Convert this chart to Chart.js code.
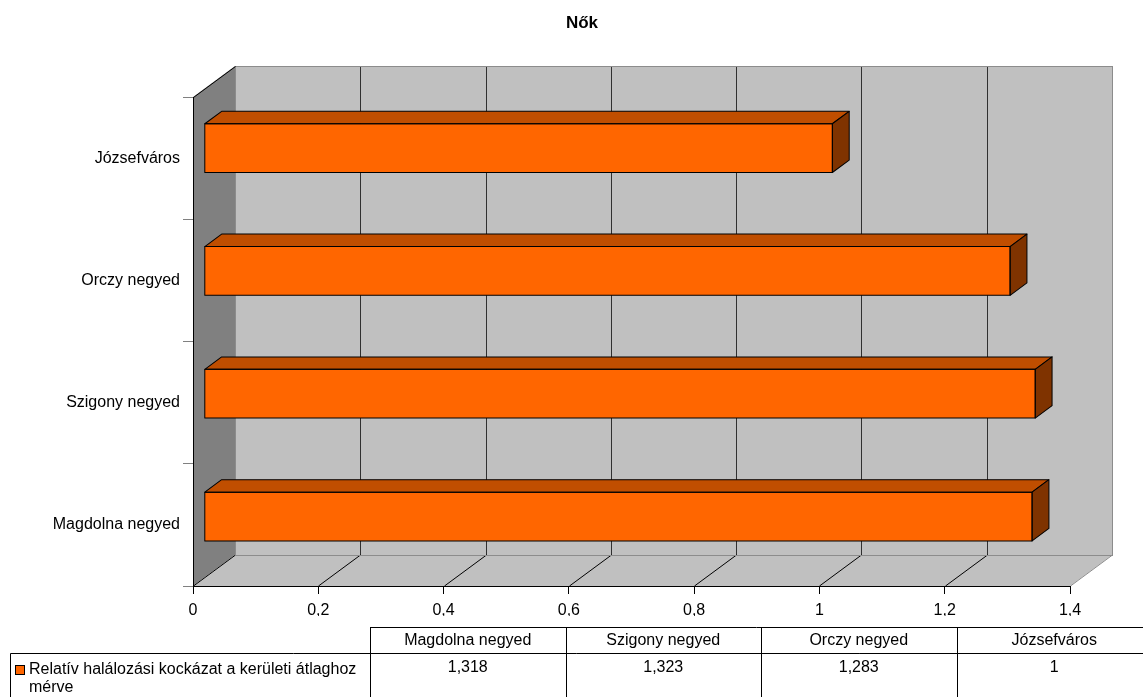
<!DOCTYPE html>
<html lang="hu">
<head>
<meta charset="utf-8">
<title>Nők</title>
<script src="https://cdn.jsdelivr.net/npm/chart.js@4/dist/chart.umd.min.js"></script>
<style>
  html, body { margin: 0; padding: 0; background: #ffffff; }
  #wrap { width: 1143px; height: 697px; }
</style>
</head>
<body>
<div id="wrap"><canvas id="chart" width="1143" height="697"></canvas></div>
<script>
// Districts (bottom to top on the chart, left to right in the table)
const categories = ['Magdolna negyed', 'Szigony negyed', 'Orczy negyed', 'Józsefváros'];
// Relative mortality risk compared with the district average
const relativeRisk = [1.318, 1.323, 1.283, 1];
const seriesName = 'Relatív halálozási kockázat a kerületi átlaghoz mérve';
const chartTitle = 'Nők';
// Value axis range and step
const axisMin = 0;
const axisMax = 1.4;
const axisStep = 0.2;

const FONT = "'Liberation Sans', Arial, Helvetica, sans-serif";
const fmt = v => String(Math.round(v * 1000) / 1000).replace('.', ',');

// Depth of the 3D box
const DEPTH_X = 42, DEPTH_Y = -31;
// Plane of the bars' front faces inside the box: offset from the front
// plane and a slight perspective stretch
const BAR_PLANE = { ox: 11.3, oy: -8.1, sx: 1.0026, sy: 1.0044 };
// Depth of each bar (fraction of the box depth)
const BAR_DEPTH = 0.4;

const COLORS = {
  front: '#ff6600', top: '#c04e00', side: '#7f3300',
  wall: '#c0c0c0', sideWall: '#808080', wallEdge: '#8c8c8c', grid: '#303030'
};

const box3d = {
  id: 'box3d',
  beforeDraw(chart) {
    const ctx = chart.ctx;
    const { left: L, right: R, top: T, bottom: B } = chart.chartArea;
    const xs = chart.scales.x;
    ctx.save();
    ctx.fillStyle = '#ffffff';
    ctx.fillRect(0, 0, chart.width, chart.height);

    // back wall
    ctx.fillStyle = COLORS.wall;
    ctx.fillRect(L + DEPTH_X, T + DEPTH_Y, R - L, B - T);
    // left side wall
    ctx.fillStyle = COLORS.sideWall;
    ctx.beginPath();
    ctx.moveTo(L, T); ctx.lineTo(L + DEPTH_X, T + DEPTH_Y);
    ctx.lineTo(L + DEPTH_X, B + DEPTH_Y); ctx.lineTo(L, B); ctx.closePath();
    ctx.fill();
    // floor
    ctx.fillStyle = COLORS.wall;
    ctx.beginPath();
    ctx.moveTo(L, B); ctx.lineTo(R, B);
    ctx.lineTo(R + DEPTH_X, B + DEPTH_Y); ctx.lineTo(L + DEPTH_X, B + DEPTH_Y); ctx.closePath();
    ctx.fill();

    ctx.lineWidth = 1;
    // back wall and floor gridlines
    const ticks = xs.ticks;
    ticks.forEach((t, i) => {
      const px = Math.round(xs.getPixelForValue(t.value)) + 0.5;
      if (i > 0 && i < ticks.length - 1) {
        ctx.strokeStyle = COLORS.grid;
        ctx.beginPath();
        ctx.moveTo(px + DEPTH_X, T + DEPTH_Y);
        ctx.lineTo(px + DEPTH_X, B + DEPTH_Y);
        ctx.stroke();
      }
      ctx.strokeStyle = i === ticks.length - 1 ? COLORS.wallEdge : '#000000';
      ctx.beginPath();
      ctx.moveTo(px, B);
      ctx.lineTo(px + DEPTH_X, B + DEPTH_Y);
      ctx.stroke();
    });

    // wall edges
    ctx.strokeStyle = COLORS.wallEdge;
    ctx.strokeRect(Math.round(L + DEPTH_X) + 0.5, Math.round(T + DEPTH_Y) + 0.5,
                   Math.round(R - L), Math.round(B - T));
    ctx.strokeStyle = '#000000';
    ctx.beginPath();
    ctx.moveTo(L + 0.5, T + 0.5);
    ctx.lineTo(L + DEPTH_X + 0.5, T + DEPTH_Y + 0.5);
    ctx.stroke();
    ctx.restore();
  },
  beforeDatasetDraw(chart) {
    const { left: L, bottom: B } = chart.chartArea;
    const ctx = chart.ctx;
    ctx.save();
    ctx.translate(L + BAR_PLANE.ox, B + BAR_PLANE.oy);
    ctx.scale(BAR_PLANE.sx, BAR_PLANE.sy);
    ctx.translate(-L, -B);
  },
  afterDatasetDraw(chart, args) {
    const ctx = chart.ctx;
    const bdx = DEPTH_X * BAR_DEPTH, bdy = DEPTH_Y * BAR_DEPTH;
    ctx.lineWidth = 1;
    ctx.strokeStyle = '#000000';
    ctx.lineJoin = 'round';
    args.meta.data.forEach(el => {
      const p = el.getProps(['x', 'y', 'base', 'height'], true);
      const l = Math.min(p.x, p.base), r = Math.max(p.x, p.base);
      const t = p.y - p.height / 2, b = p.y + p.height / 2;
      // top face
      ctx.fillStyle = COLORS.top;
      ctx.beginPath();
      ctx.moveTo(l, t); ctx.lineTo(r, t);
      ctx.lineTo(r + bdx, t + bdy); ctx.lineTo(l + bdx, t + bdy); ctx.closePath();
      ctx.fill(); ctx.stroke();
      // end face
      ctx.fillStyle = COLORS.side;
      ctx.beginPath();
      ctx.moveTo(r, t); ctx.lineTo(r + bdx, t + bdy);
      ctx.lineTo(r + bdx, b + bdy); ctx.lineTo(r, b); ctx.closePath();
      ctx.fill(); ctx.stroke();
      // front face outline
      ctx.strokeRect(l, t, r - l, b - t);
    });
    ctx.restore();
  }
};

// Title and data table under the chart
const dataTable = {
  id: 'dataTable',
  afterDraw(chart) {
    const ctx = chart.ctx;
    ctx.save();
    ctx.fillStyle = '#000000';
    ctx.textAlign = 'center';
    ctx.textBaseline = 'middle';
    ctx.font = 'bold 17px ' + FONT;
    ctx.fillText(chartTitle, 582, 23);

    const colX = [370, 565.5, 761, 956.5, 1152];
    const top = 627.5, mid = 653.5, bottom = chart.height;
    ctx.strokeStyle = '#000000';
    ctx.lineWidth = 1;
    ctx.beginPath();
    ctx.moveTo(colX[0], top); ctx.lineTo(chart.width, top);
    ctx.moveTo(10.5, mid); ctx.lineTo(chart.width, mid);
    colX.forEach(x => {
      const xx = Math.round(x) + 0.5;
      ctx.moveTo(xx, top); ctx.lineTo(xx, bottom);
    });
    ctx.moveTo(10.5, mid); ctx.lineTo(10.5, bottom);
    ctx.stroke();

    ctx.font = '16px ' + FONT;
    categories.forEach((c, i) => {
      const cx = (colX[i] + colX[i + 1]) / 2;
      ctx.fillText(c, cx, 641);
      ctx.fillText(fmt(relativeRisk[i]), cx, 668);
    });

    // legend key and series name
    ctx.fillStyle = COLORS.front;
    ctx.fillRect(15.5, 665.5, 9, 9);
    ctx.strokeRect(15.5, 665.5, 9, 9);
    ctx.fillStyle = '#000000';
    ctx.textAlign = 'left';
    const maxW = colX[0] - 29 - 6;
    const words = seriesName.split(' ');
    const lines = [];
    let line = '';
    words.forEach(w => {
      const test = line ? line + ' ' + w : w;
      if (ctx.measureText(test).width > maxW && line) { lines.push(line); line = w; }
      else line = test;
    });
    if (line) lines.push(line);
    lines.forEach((ln, i) => ctx.fillText(ln, 29, 670 + i * 18));
    ctx.restore();
  }
};

new Chart(document.getElementById('chart'), {
  type: 'bar',
  data: {
    labels: categories,
    datasets: [{
      label: seriesName,
      data: relativeRisk,
      backgroundColor: COLORS.front,
      borderColor: '#000000',
      borderWidth: 0,
      barPercentage: 0.397,
      categoryPercentage: 1.0,
      clip: false
    }]
  },
  options: {
    indexAxis: 'y',
    responsive: false,
    animation: false,
    devicePixelRatio: 1,
    layout: { padding: { left: 0, right: 73, top: 97, bottom: 81 } },
    plugins: {
      legend: { display: false },
      tooltip: { enabled: false },
      title: { display: false }
    },
    scales: {
      x: {
        type: 'linear',
        min: axisMin,
        max: axisMax,
        ticks: {
          stepSize: axisStep,
          color: '#000000',
          padding: 7,
          font: { family: FONT, size: 16 },
          callback: v => fmt(v)
        },
        grid: { drawOnChartArea: false, drawTicks: true, tickLength: 8, color: '#000000' },
        border: { display: true, color: '#000000' },
        afterFit: s => { s.height = 30; }
      },
      y: {
        reverse: true,
        ticks: {
          color: '#000000',
          padding: 3,
          font: { family: FONT, size: 16 }
        },
        grid: { drawOnChartArea: false, drawTicks: true, tickLength: 10, color: '#808080', offset: true },
        border: { display: true, color: '#000000' },
        afterFit: s => { s.width = 193; }
      }
    }
  },
  plugins: [box3d, dataTable]
});
</script>
</body>
</html>
